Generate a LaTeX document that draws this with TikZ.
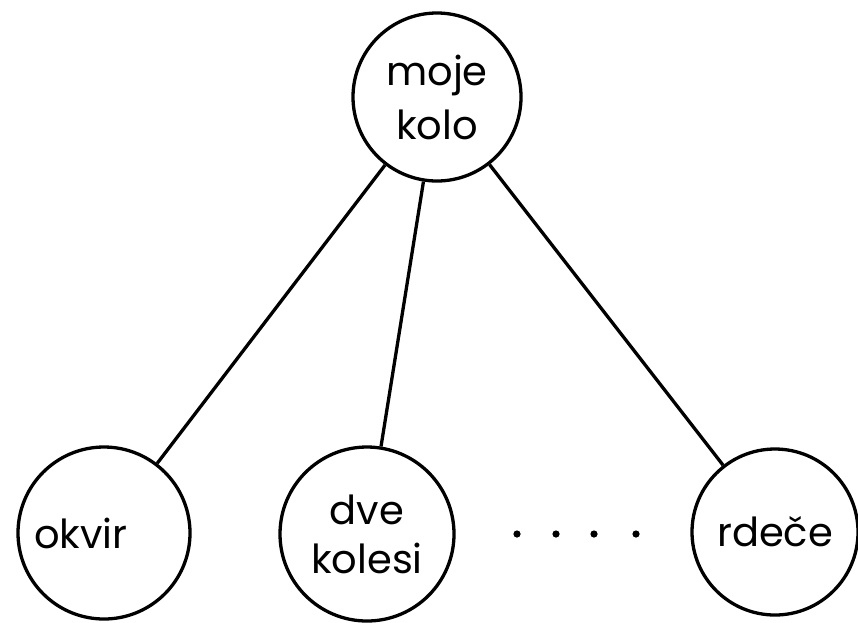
\documentclass[tikz,border=0pt]{standalone}
\usepackage{fontspec}
\setmainfont{Poppins}
\usepackage{tikz}

\begin{document}
\begin{tikzpicture}[x=1pt,y=-1pt,
     knot/.style={circle,draw,line width=3.3pt,inner sep=0pt,align=center,
                  font=\fontsize{40}{54}\selectfont},
     edge/.style={line width=3.3pt}]
     \useasboundingbox (0,0) rectangle (858,622);
     \node[knot,minimum size=168pt] (kolo)  at (437, 97) {moje\\kolo};
     \node[knot,minimum size=172pt,text width=140pt,align=left]
                                    (okvir) at (104,533) {okvir};
     \node[knot,minimum size=174pt,font=\fontsize{40}{49}\selectfont]
                                    (dve)   at (367,534) {dve\\kolesi};
     \node[knot,minimum size=166pt] (rdece) at (775,532) {rde\v{c}e};
     \draw[edge] (kolo) -- (okvir);
     \draw[edge] (kolo) -- (dve);
     \draw[edge] (kolo) -- (rdece);
     \foreach \x in {517,556,594,636}
      \fill[black] (\x,534) circle(3.6);
    \end{tikzpicture}
\end{document}
